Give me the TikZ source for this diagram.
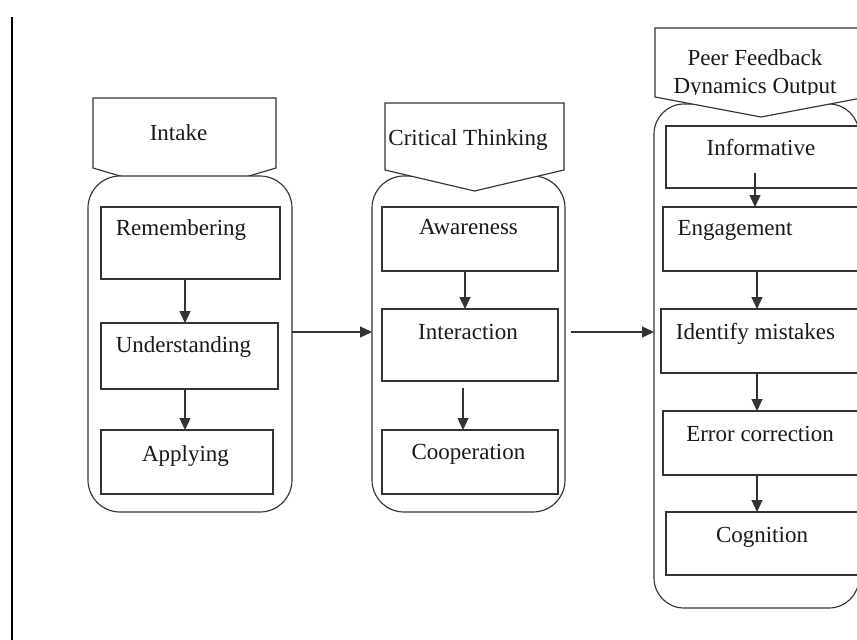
\documentclass[tikz,border=0pt]{standalone}
\usepackage{fontspec}
\setmainfont{Liberation Serif}
\usetikzlibrary{arrows.meta}
\begin{document}
\begin{tikzpicture}[x=1pt, y=-1pt,
  every node/.style={inner sep=0pt, outer sep=0pt},
  ln/.style={draw=black!80, line width=1.15pt},
  container/.style={ln, fill=white, rounded corners=#1},
  box/.style={ln, fill=white, rectangle},
  header/.style={ln, fill=white, line join=miter},
  lbl/.style={anchor=base, font=\fontsize{23}{27}\selectfont, text=black!90},
  arr/.style={ln, -{Triangle[length=12pt,width=11pt]}}
]
\path[use as bounding box] (0,0) rectangle (857,640);
\clip (0,0) rectangle (857,640);

% left margin rule
\coordinate (rtop) at (12,17);
\coordinate (rbot) at (12,640);
\draw[line width=1.4pt] (rtop) -- (rbot);

% ---- column 1: Intake ----
\draw[header] (93,98) -- (276,98) -- (276,168) -- (184.5,195) -- (93,168) -- cycle;
\node[lbl] (h1) at (178.5,140) {Intake};
\node[container=32pt, minimum width=204pt, minimum height=336pt] (c1) at (190,344) {};

\node[box, minimum width=179pt, minimum height=72pt] (b1) at (190.5,243) {};
\node[box, minimum width=177pt, minimum height=66pt] (b2) at (189.5,356) {};
\node[box, minimum width=172pt, minimum height=64pt] (b3) at (187,462) {};
\node[lbl] (t1) at (181,235) {Remembering};
\node[lbl] (t2) at (183.5,352) {Understanding};
\node[lbl] (t3) at (185.5,461) {Applying};

% ---- column 2: Critical Thinking ----
\node[container=32pt, minimum width=193pt, minimum height=336pt] (c2) at (468.5,344) {};
\draw[header] (385,103) -- (564,103) -- (564,170) -- (474.5,191) -- (385,170) -- cycle;
\node[lbl] (h2) at (468,145) {Critical Thinking};

\node[box, minimum width=176pt, minimum height=64pt] (b4) at (470,239) {};
\node[box, minimum width=176pt, minimum height=72pt] (b5) at (470,345) {};
\node[box, minimum width=176pt, minimum height=64pt] (b6) at (470,462) {};
\node[lbl] (t4) at (468.5,234) {Awareness};
\node[lbl] (t5) at (468,339) {Interaction};
\node[lbl] (t6) at (468.5,459) {Cooperation};

% ---- column 3: Peer Feedback Dynamics Output ----
\node[container=30pt, minimum width=205pt, minimum height=504pt] (c3) at (756.5,356) {};
\draw[header] (655,28) -- (867,28) -- (867,97) -- (761,117) -- (655,97) -- cycle;
\node[lbl] (h3a) at (755,65) {Peer Feedback};
\begin{scope}
  \clip (640,0) rectangle (870,94.5);
  \node[lbl] (h3b) at (755,93) {Dynamics Output};
\end{scope}

\node[box, minimum width=196pt, minimum height=62pt] (b7) at (764,157) {};
\node[box, minimum width=199pt, minimum height=64pt] (b8) at (762.5,239) {};
\node[box, minimum width=201pt, minimum height=64pt] (b9) at (761.5,341) {};
\node[box, minimum width=199pt, minimum height=64pt] (b10) at (762.5,443) {};
\node[box, minimum width=196pt, minimum height=63pt] (b11) at (764,543.5) {};
\node[lbl] (t7) at (761,155) {Informative};
\node[lbl] (t8) at (735,235) {Engagement};
\node[lbl] (t9) at (755.5,339) {Identify mistakes};
\node[lbl] (t10) at (760,441) {Error correction};
\node[lbl] (t11) at (762,542) {Cognition};

% ---- connectors inside the columns ----
\draw[arr] ([xshift=-5.5pt]b1.south) -- ([xshift=-5.5pt]b1.south |- b2.north);
\draw[arr] ([xshift=-4.5pt]b2.south) -- ([xshift=-4.5pt]b2.south |- b3.north);
\draw[arr] ([xshift=-5pt]b4.south) -- ([xshift=-5pt]b4.south |- b5.north);
\draw[arr] ([xshift=-7pt,yshift=-7pt]b5.south) -- ([xshift=-7pt]b5.south |- b6.north);
\draw[arr] ([xshift=-9pt,yshift=15pt]b7.south) -- ([xshift=-9pt]b7.south |- b8.north);
\draw[arr] ([xshift=-5.5pt]b8.south) -- ([xshift=-5.5pt]b8.south |- b9.north);
\draw[arr] ([xshift=-4.5pt]b9.south) -- ([xshift=-4.5pt]b9.south |- b10.north);
\draw[arr] ([xshift=-5.5pt]b10.south) -- ([xshift=-5.5pt]b10.south |- b11.north);

% ---- connectors between the columns ----
\draw[arr] ([yshift=12pt]c1.east) -- ([yshift=12pt]c1.east -| c2.west);
\draw[arr] ([xshift=6pt,yshift=12pt]c2.east) -- ([yshift=12pt]c2.east -| c3.west);
\end{tikzpicture}
\end{document}
